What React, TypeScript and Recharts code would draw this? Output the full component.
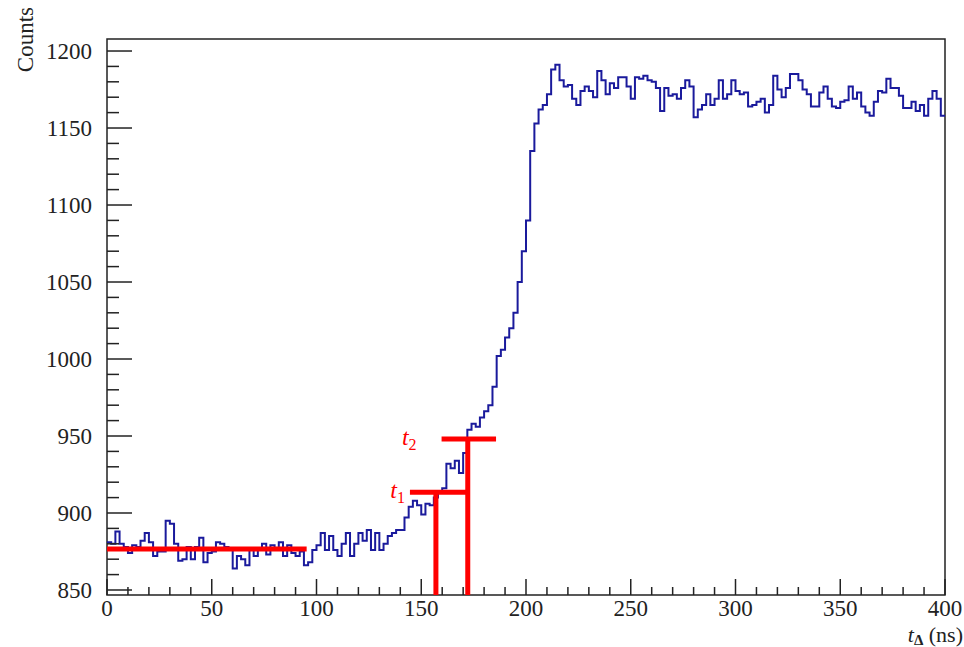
import {
  ComposedChart,
  Line,
  XAxis,
  YAxis,
  ReferenceLine,
  ReferenceArea,
  Label,
} from "recharts";

// histogram, 2 ns bins
const BIN_WIDTH = 2;
const countsA = [
  881, 880, 888, 880, 878, 874, 879, 878, 882, 887,
  881, 872, 875, 875, 895, 893, 880, 869, 870, 878,
  870, 878, 884, 868, 874, 875, 881, 880, 878, 877,
  864, 872, 870, 866, 877, 872, 876, 880, 873, 879,
  876, 881, 872, 879, 874, 872, 875, 866, 868, 876,
];
const countsB = [
  879, 887, 876, 885, 876, 872, 880, 887, 872, 880,
  887, 882, 889, 876, 887, 876, 880, 885, 887, 889,
  889, 897, 904, 908, 905, 899, 906, 905, 910,
  914, 916, 932, 929, 934, 926, 939,
  954, 958, 956, 962, 966, 970, 982, 1002, 1006, 1014,
  1020, 1030, 1050, 1070, 1090, 1135, 1153, 1162, 1165, 1172,
  1188, 1191,
];
const countsC = [
  1181, 1177, 1178, 1169, 1165, 1174, 1177, 1174, 1170, 1187,
  1181, 1172, 1179, 1176, 1183, 1183, 1177, 1169, 1183, 1182,
  1184, 1181, 1180, 1176, 1161, 1176, 1171, 1172, 1169, 1176,
  1181, 1177, 1157, 1162, 1165, 1172, 1165, 1169, 1181, 1169,
  1172, 1181,
];
const countsD = [
  1174, 1172, 1173, 1164, 1165, 1167, 1169, 1160, 1165, 1184,
  1175, 1170, 1176, 1185, 1185, 1181, 1175, 1172, 1164, 1164,
  1173, 1177, 1169, 1164, 1163, 1167, 1168, 1177, 1169, 1173,
  1164, 1160, 1158, 1167, 1174, 1173, 1182, 1176, 1176, 1171,
  1163, 1163, 1167, 1161, 1165, 1158, 1169, 1174, 1169, 1158,
];
const counts = [...countsA, ...countsB, ...countsC, ...countsD];

// red markers
const pedestalLevel = 876.6;
const pedestalEnd = 95.3;
const thresholdNames = ["1", "2"];
const thresholdTimes = [157, 172.2];
const thresholdLevels = [913.5, 948];
const thresholdFrom = [144.6, 159.7];
const thresholdTo = [171.7, 185.7];

const X_MAX = 400;
const Y_MIN = 846.75;
const Y_MAX = 1207.8;
const xTicks = Array.from({ length: 41 }, (_, i) => i * 10);
const yTicks = Array.from({ length: 36 }, (_, i) => 850 + i * 10);

const histData = counts.map((v, i) => ({ t: i * BIN_WIDTH, v }));
histData.push({ t: X_MAX, v: counts[counts.length - 1] });

const FONT = "Liberation Serif, Tinos, DejaVu Serif, serif";
const RED = "#ff0000";
const BLUE = "#1a1a9c";
const INK = "#222";
const labelShift = [5, 25];

function XTick({ x, y, payload }: any) {
  const major = payload.value % 50 === 0;
  return (
    <g>
      <line x1={x} x2={x} y1={y} y2={y - (major ? 16 : 8)} stroke={INK} strokeWidth={1.5} />
      {major && (
        <text x={x} y={y + 21} textAnchor="middle" fontSize={23} style={{ fontFamily: FONT }} fill={INK}>
          {payload.value}
        </text>
      )}
    </g>
  );
}

function YTick({ x, y, payload }: any) {
  const major = payload.value % 50 === 0;
  return (
    <g>
      <line x1={x} x2={x + (major ? 25 : 12)} y1={y} y2={y} stroke={INK} strokeWidth={1.5} />
      {major && (
        <text x={x - 15} y={y + 8} textAnchor="end" fontSize={23} style={{ fontFamily: FONT }} fill={INK}>
          {payload.value}
        </text>
      )}
    </g>
  );
}

export default function App() {
  return (
    <div style={{ position: "absolute", left: 0, top: 0, fontFamily: FONT }}>
      <ComposedChart
        width={964}
        height={647}
        data={histData}
        margin={{ top: 39, right: 19, bottom: 0, left: 0 }}
      >
        <XAxis
          dataKey="t"
          type="number"
          domain={[0, X_MAX]}
          ticks={xTicks}
          interval={0}
          tickSize={0}
          tickMargin={0}
          tickLine={false}
          axisLine={false}
          tick={<XTick />}
          height={52}
          allowDataOverflow
        >
          <Label
            content={({ viewBox }: any) => (
              <text
                x={viewBox.x + viewBox.width + 18}
                y={viewBox.y + 47}
                textAnchor="end"
                fontSize={22}
                style={{ fontFamily: FONT }}
                fill={INK}
              >
                <tspan fontStyle="italic">t</tspan>
                <tspan fontSize={15} fontWeight="bold" dy={3}>Δ</tspan>
                <tspan dy={-3}> (ns)</tspan>
              </text>
            )}
          />
        </XAxis>
        <YAxis
          type="number"
          domain={[Y_MIN, Y_MAX]}
          ticks={yTicks}
          interval={0}
          tickSize={0}
          tickMargin={0}
          tickLine={false}
          axisLine={false}
          tick={<YTick />}
          width={107}
          allowDataOverflow
        >
          <Label
            content={({ viewBox }: any) => (
              <text
                x={viewBox.x + 33}
                y={viewBox.y - 32}
                transform={`rotate(-90 ${viewBox.x + 33} ${viewBox.y - 32})`}
                textAnchor="end"
                fontSize={23}
                style={{ fontFamily: FONT }}
                fill={INK}
              >
                Counts
              </text>
            )}
          />
        </YAxis>

        <Line
          type="stepAfter"
          dataKey="v"
          stroke={BLUE}
          strokeWidth={2}
          dot={false}
          isAnimationActive={false}
        />

        <ReferenceLine
          segment={[
            { x: 0, y: pedestalLevel },
            { x: pedestalEnd, y: pedestalLevel },
          ]}
          stroke={RED}
          strokeWidth={5}
        />
        {thresholdNames.map((name, i) => (
          <ReferenceLine
            key={`h${name}`}
            segment={[
              { x: thresholdFrom[i], y: thresholdLevels[i] },
              { x: thresholdTo[i], y: thresholdLevels[i] },
            ]}
            stroke={RED}
            strokeWidth={5}
            label={{
              content: ({ viewBox }: any) => (
                <text
                  x={viewBox.x - labelShift[i]}
                  y={viewBox.y + 6}
                  textAnchor="end"
                  fontSize={24}
                  style={{ fontFamily: FONT }}
                  fill={RED}
                >
                  <tspan fontStyle="italic">t</tspan>
                  <tspan fontSize={16} dy={5}>{name}</tspan>
                </text>
              ),
            }}
          />
        ))}
        {thresholdNames.map((name, i) => (
          <ReferenceLine
            key={`v${name}`}
            segment={[
              { x: thresholdTimes[i], y: Y_MIN },
              { x: thresholdTimes[i], y: thresholdLevels[i] },
            ]}
            stroke={RED}
            strokeWidth={5}
          />
        ))}

        <ReferenceArea
          x1={0}
          x2={X_MAX}
          y1={Y_MIN}
          y2={Y_MAX}
          fill="none"
          stroke={INK}
          strokeWidth={1.5}
          ifOverflow="visible"
        />
      </ComposedChart>
    </div>
  );
}
